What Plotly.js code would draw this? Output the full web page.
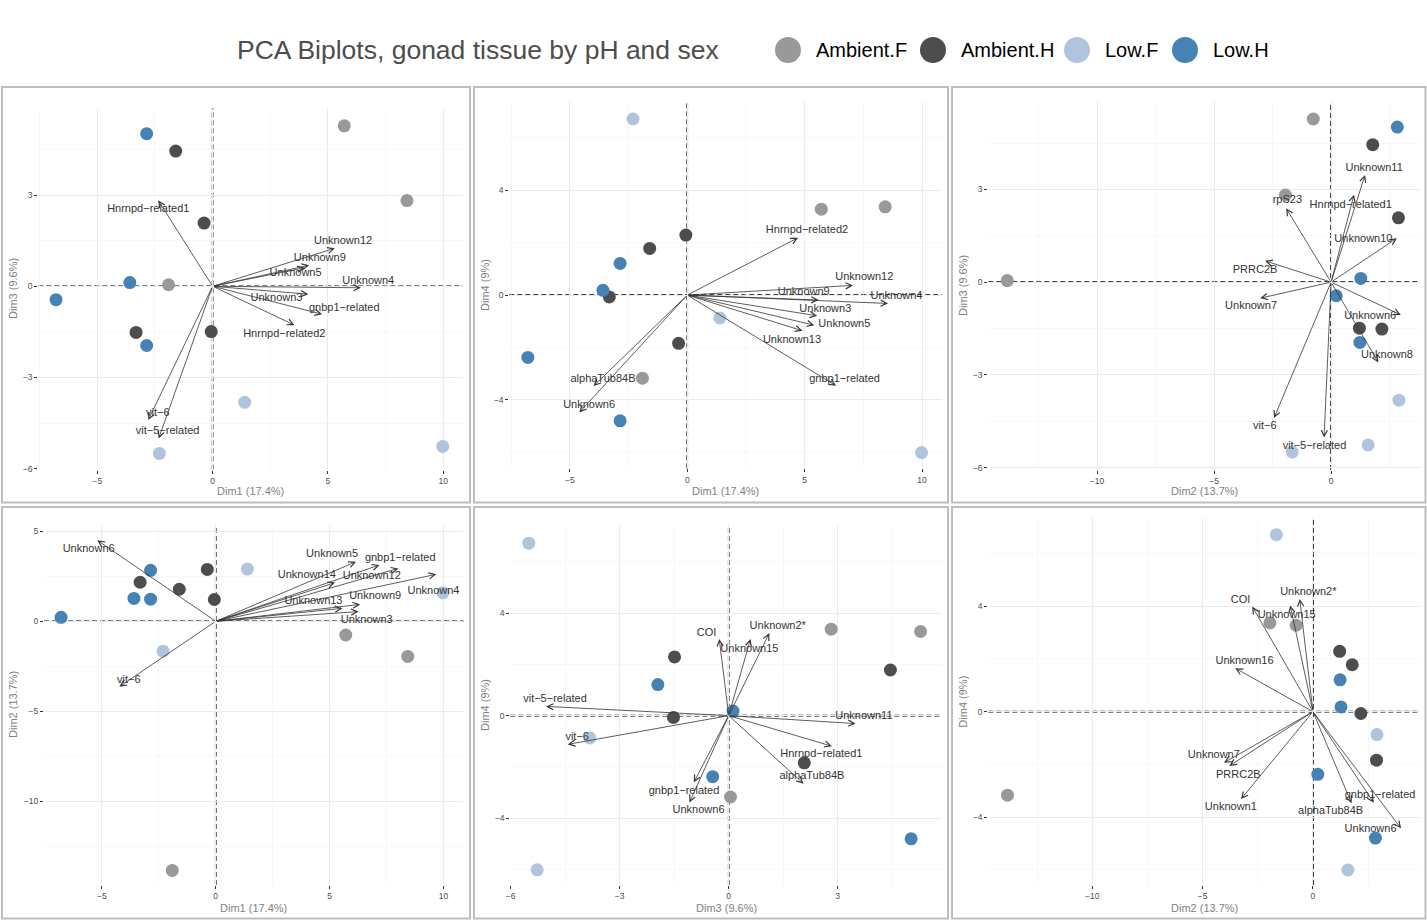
<!DOCTYPE html>
<html>
<head>
<meta charset="utf-8">
<script src="https://cdn.plot.ly/plotly-3.0.1.min.js"></script>
<style>html,body{margin:0;padding:0;background:#fff;}#chart{width:1427px;height:920px;}</style>
</head>
<body>
<div id="chart"></div>
<script>
// ---------------- DATA ----------------
const groups = ['Ambient.F', 'Ambient.H', 'Low.F', 'Low.H'];
const groupColors = ['#999999', '#4D4D4D', '#B0C4DE', '#4682B4'];
const chartTitle = 'PCA Biplots, gonad tissue by pH and sex';
const dimLabels = ['Dim1 (17.4%)', 'Dim2 (13.7%)', 'Dim3 (9.6%)', 'Dim4 (9%)'];

// individuals (samples)
const sampleGroup = ['Ambient.F','Ambient.F','Ambient.F','Ambient.H','Ambient.H','Ambient.H','Ambient.H',
                     'Low.H','Low.H','Low.H','Low.H','Low.F','Low.F','Low.F'];
const dim1 = [5.71, 8.43, -1.91, -1.60, -0.37, -3.32, -0.06, -2.86, -3.59, -6.79, -2.86, 1.39, -2.31, 9.98];
const dim2 = [-0.76, -1.95, -13.84, 1.78, 2.88, 2.17, 1.21, 2.83, 1.27, 0.22, 1.23, 2.90, -1.66, 1.58];
const dim3 = [5.28, 2.82, 0.05, 4.45, 2.08, -1.52, -1.49, 5.02, 0.12, -0.44, -1.95, -3.82, -5.50, -5.27];
const dim4 = [3.28, 3.37, -3.17, 1.78, -1.84, -0.07, 2.29, -4.80, 0.18, -2.38, 1.21, -0.87, 6.72, -6.01];

// variables, panel 1: Dim1 vs Dim3
const p1Names = ['Hnrnpd−related1','Unknown12','Unknown9','Unknown5','Unknown4','Unknown3','gnbp1−related','Hnrnpd−related2','vit−6','vit−5−related'];
const p1TipX = [-2.36, 5.30, 4.19, 4.00, 6.43, 4.15, 4.75, 3.55, -2.79, -2.34];
const p1TipY = [2.83, 1.25, 0.69, 0.61, -0.05, -0.26, -0.92, -1.28, -4.40, -5.01];
const p1LabX = [-2.79, 5.66, 4.65, 3.60, 6.75, 2.77, 5.71, 3.11, -2.38, -1.95];
const p1LabY = [2.52, 1.48, 0.92, 0.42, 0.15, -0.39, -0.73, -1.59, -4.18, -4.76];

// panel 2: Dim1 vs Dim4
const p2Names = ['Hnrnpd−related2','Unknown12','Unknown9','Unknown4','Unknown3','Unknown5','Unknown13','gnbp1−related','alphaTub84B','Unknown6'];
const p2TipX = [4.72, 7.06, 5.60, 8.55, 5.53, 5.41, 4.91, 6.34, -3.99, -4.60];
const p2TipY = [2.19, 0.37, -0.19, -0.32, -0.79, -1.15, -1.36, -3.46, -3.47, -4.48];
const p2LabX = [5.10, 7.54, 4.96, 8.91, 5.88, 6.69, 4.46, 6.70, -3.59, -4.18];
const p2LabY = [2.47, 0.67, 0.10, -0.05, -0.53, -1.11, -1.72, -3.22, -3.21, -4.20];

// panel 3: Dim2 vs Dim3
const p3Names = ['Unknown11','Hnrnpd−related1','rpS23','Unknown10','PRRC2B','Unknown7','Unknown6','Unknown8','vit−6','vit−5−related'];
const p3TipX = [1.45, 0.98, -1.92, 2.81, -2.82, -3.03, 2.98, 2.02, -2.44, -0.30];
const p3TipY = [3.47, 2.83, 2.39, 1.42, 0.69, -0.52, -1.06, -2.60, -4.40, -5.03];
const p3LabX = [1.84, 0.84, -1.87, 1.38, -3.25, -3.42, 1.67, 2.39, -2.83, -0.71];
const p3LabY = [3.70, 2.50, 2.65, 1.40, 0.40, -0.79, -1.09, -2.35, -4.67, -5.30];

// panel 4: Dim1 vs Dim2
const p4Names = ['Unknown6','Unknown5','gnbp1−related','Unknown12','Unknown14','Unknown4','Unknown13','Unknown9','Unknown3','vit−6'];
const p4TipX = [-5.20, 6.16, 7.19, 8.02, 5.24, 9.68, 5.56, 6.34, 6.27, -4.23];
const p4TipY = [4.50, 3.31, 3.13, 2.94, 2.15, 2.61, 0.72, 0.94, 0.54, -3.63];
const p4LabX = [-5.58, 5.11, 8.10, 6.85, 4.00, 9.56, 4.29, 7.00, 6.63, -3.82];
const p4LabY = [4.02, 3.72, 3.50, 2.48, 2.57, 1.67, 1.13, 1.37, 0.07, -3.26];

// panel 5: Dim3 vs Dim4
const p5Names = ['COI','Unknown15','Unknown2*','vit−5−related','vit−6','Unknown11','Hnrnpd−related1','alphaTub84B','gnbp1−related','Unknown6'];
const p5TipX = [-0.26, 0.60, 1.12, -5.03, -4.43, 3.49, 2.84, 2.06, -0.96, -1.08];
const p5TipY = [2.99, 2.99, 3.22, 0.36, -1.12, -0.31, -1.19, -2.65, -2.60, -3.38];
const p5LabX = [-0.61, 0.57, 1.35, -4.78, -4.17, 3.72, 2.55, 2.29, -1.23, -0.83];
const p5LabY = [3.23, 2.60, 3.49, 0.65, -0.84, -0.01, -1.51, -2.35, -2.94, -3.68];

// panel 6: Dim2 vs Dim4
const p6Names = ['COI','Unknown2*','Unknown15','Unknown16','Unknown7','PRRC2B','Unknown1','alphaTub84B','gnbp1−related','Unknown6'];
const p6TipX = [-2.75, -0.60, -1.03, -3.52, -4.03, -3.79, -3.26, 1.75, 2.76, 3.99];
const p6TipY = [3.99, 4.28, 4.03, 1.65, -1.94, -2.06, -3.32, -3.48, -3.46, -4.43];
const p6LabX = [-3.28, -0.21, -1.19, -3.10, -4.49, -3.38, -3.72, 0.80, 3.04, 2.61];
const p6LabY = [4.24, 4.53, 3.67, 1.90, -1.67, -2.41, -3.63, -3.77, -3.16, -4.46];

// ---------------- LAYOUT / DRAWING ----------------
const W = 1427, H = 920;
const FONT = '"Liberation Sans", Arial, Helvetica, sans-serif';
const dims = [dim1, dim2, dim3, dim4];
const px2x = p => p / W;
const px2y = p => 1 - p / H;

const panels = [
  {xd:0, yd:2, px:[38.3,463], py:[108.5,469.5], xr:[-7.56,10.86], yr:[-6.03,5.85], xdt:5, ydt:3, border:[2,87,470,502.5], xt:491,  yt:13,
   v:[p1Names,p1TipX,p1TipY,p1LabX,p1LabY]},
  {xd:0, yd:3, px:[509.3,942], py:[101.7,468.3], xr:[-7.58,10.85], yr:[-6.61,7.38], xdt:5, ydt:4, border:[474,87,948,502.5], xt:491, yt:485,
   v:[p2Names,p2TipX,p2TipY,p2LabX,p2LabY]},
  {xd:1, yd:2, px:[988.3,1420], py:[102,470], xr:[-14.65,3.80], yr:[-6.08,5.83], xdt:5, ydt:3, border:[952,87,1425.5,502.5], xt:491, yt:963,
   v:[p3Names,p3TipX,p3TipY,p3LabX,p3LabY]},
  {xd:0, yd:1, px:[44,463.3], py:[525,885], xr:[-7.54,10.87], yr:[-14.65,5.35], xdt:5, ydt:5, border:[2,507,470,918.5], xt:908, yt:13,
   v:[p4Names,p4TipX,p4TipY,p4LabX,p4LabY]},
  {xd:2, yd:3, px:[510.3,942], py:[525,885], xr:[-6.01,5.87], yr:[-6.6,7.43], xdt:3, ydt:4, border:[474,507,948,918.5], xt:908, yt:485,
   v:[p5Names,p5TipX,p5TipY,p5LabX,p5LabY]},
  {xd:1, yd:3, px:[988.3,1420], py:[518.3,885], xr:[-14.71,4.85], yr:[-6.58,7.34], xdt:5, ydt:4, border:[952,507,1425.5,918.5], xt:908, yt:963,
   v:[p6Names,p6TipX,p6TipY,p6LabX,p6LabY]}
];

const traces = [];
const annotations = [];
const shapes = [];
const layout = {
  width: W, height: H,
  margin: {l:0, r:0, t:0, b:0},
  paper_bgcolor: '#ffffff', plot_bgcolor: 'rgba(0,0,0,0)',
  showlegend: false,
  font: {family: FONT, color: '#333333'},
};

const sampleColors = sampleGroup.map(g => groupColors[groups.indexOf(g)]);

panels.forEach((p, i) => {
  const n = i === 0 ? '' : String(i + 1);
  const xa = 'x' + n, ya = 'y' + n;
  const axBase = {
    showgrid: true, gridcolor: '#EBEBEB', gridwidth: 1,
    zeroline: false, showline: false,
    ticks: 'outside', ticklen: 3, tickwidth: 1, tickcolor: '#333333',
    tickfont: {size: 8.5, color: '#4D4D4D', family: FONT},
    tickmode: 'linear', tick0: 0, fixedrange: true,
  };
  layout['xaxis' + n] = Object.assign({}, axBase, {
    domain: [px2x(p.px[0]), px2x(p.px[1])], range: p.xr, dtick: p.xdt, anchor: ya,
    minor: {dtick: p.xdt / 2, tick0: 0, showgrid: true, gridcolor: '#F3F3F3', gridwidth: 0.6, ticks: ''}
  });
  layout['yaxis' + n] = Object.assign({}, axBase, {
    domain: [px2y(p.py[1]), px2y(p.py[0])], range: p.yr, dtick: p.ydt, anchor: xa,
    minor: {dtick: p.ydt / 2, tick0: 0, showgrid: true, gridcolor: '#F3F3F3', gridwidth: 0.6, ticks: ''}
  });

  // dashed reference lines (axis-referenced, spanning the panel)
  shapes.push({type:'line', xref: xa, yref: ya + ' domain', x0:0, x1:0, y0:0, y1:1, layer:'below',
               line:{color:'#000000', width:1.6, dash:'5px,3px'}});
  shapes.push({type:'line', xref: xa + ' domain', yref: ya, x0:0, x1:1, y0:0, y1:0, layer:'below',
               line:{color:'#000000', width:1.6, dash:'5px,3px'}});

  // panel border
  shapes.push({type:'rect', xref:'paper', yref:'paper',
               x0: px2x(p.border[0]), x1: px2x(p.border[2]), y0: px2y(p.border[3]), y1: px2y(p.border[1]),
               line:{color:'#BDBDBD', width:2}, layer:'above'});

  // individuals
  traces.push({
    type:'scatter', mode:'markers', xaxis: xa, yaxis: ya,
    x: dims[p.xd], y: dims[p.yd], text: sampleGroup,
    marker: {size: 13, color: sampleColors, line: {width: 0}},
    hoverinfo: 'x+y+text'
  });

  // variable arrows
  const [names, tx, ty, lx, ly] = p.v;
  names.forEach((nm, k) => {
    annotations.push({
      xref: xa, yref: ya, axref: xa, ayref: ya,
      x: tx[k], y: ty[k], ax: 0, ay: 0,
      text: '', showarrow: true, arrowhead: 5, arrowsize: 1.5, arrowwidth: 0.8,
      arrowcolor: '#333333', standoff: 0, startstandoff: 0
    });
  });
  traces.push({
    type:'scatter', mode:'text', xaxis: xa, yaxis: ya,
    x: lx, y: ly, text: names, textposition: 'middle center',
    textfont: {size: 11, color: '#333333', family: FONT},
    hoverinfo: 'text'
  });

  // axis titles
  annotations.push({
    xref:'paper', yref:'paper', x: px2x((p.px[0] + p.px[1]) / 2), y: px2y(p.xt),
    xanchor:'center', yanchor:'middle', showarrow:false, text: dimLabels[p.xd],
    font:{size: 11, color:'#7F7F7F', family: FONT}
  });
  annotations.push({
    xref:'paper', yref:'paper', x: px2x(p.yt), y: px2y((p.py[0] + p.py[1]) / 2),
    xanchor:'center', yanchor:'middle', showarrow:false, text: dimLabels[p.yd], textangle: -90,
    font:{size: 11, color:'#7F7F7F', family: FONT}
  });
});

// title
annotations.push({
  xref:'paper', yref:'paper', x: px2x(235), y: px2y(50), xanchor:'left', yanchor:'middle',
  showarrow:false, text: chartTitle, font:{size: 26.5, color:'#4D4D4D', family: FONT}
});

// legend (drawn manually)
const legendCircleX = [788, 933, 1077, 1185];
groups.forEach((g, i) => {
  const cx = legendCircleX[i], cy = 50, r = 13;
  shapes.push({type:'circle', xref:'paper', yref:'paper',
               x0: px2x(cx - r), x1: px2x(cx + r), y0: px2y(cy + r), y1: px2y(cy - r),
               fillcolor: groupColors[i], line:{width:0}});
  annotations.push({
    xref:'paper', yref:'paper', x: px2x(cx + 26), y: px2y(cy), xanchor:'left', yanchor:'middle',
    showarrow:false, text: g, font:{size: 20, color:'#000000', family: FONT}
  });
});

layout.shapes = shapes;
layout.annotations = annotations;

Plotly.newPlot('chart', traces, layout, {displayModeBar: false, staticPlot: true});
</script>
</body>
</html>
